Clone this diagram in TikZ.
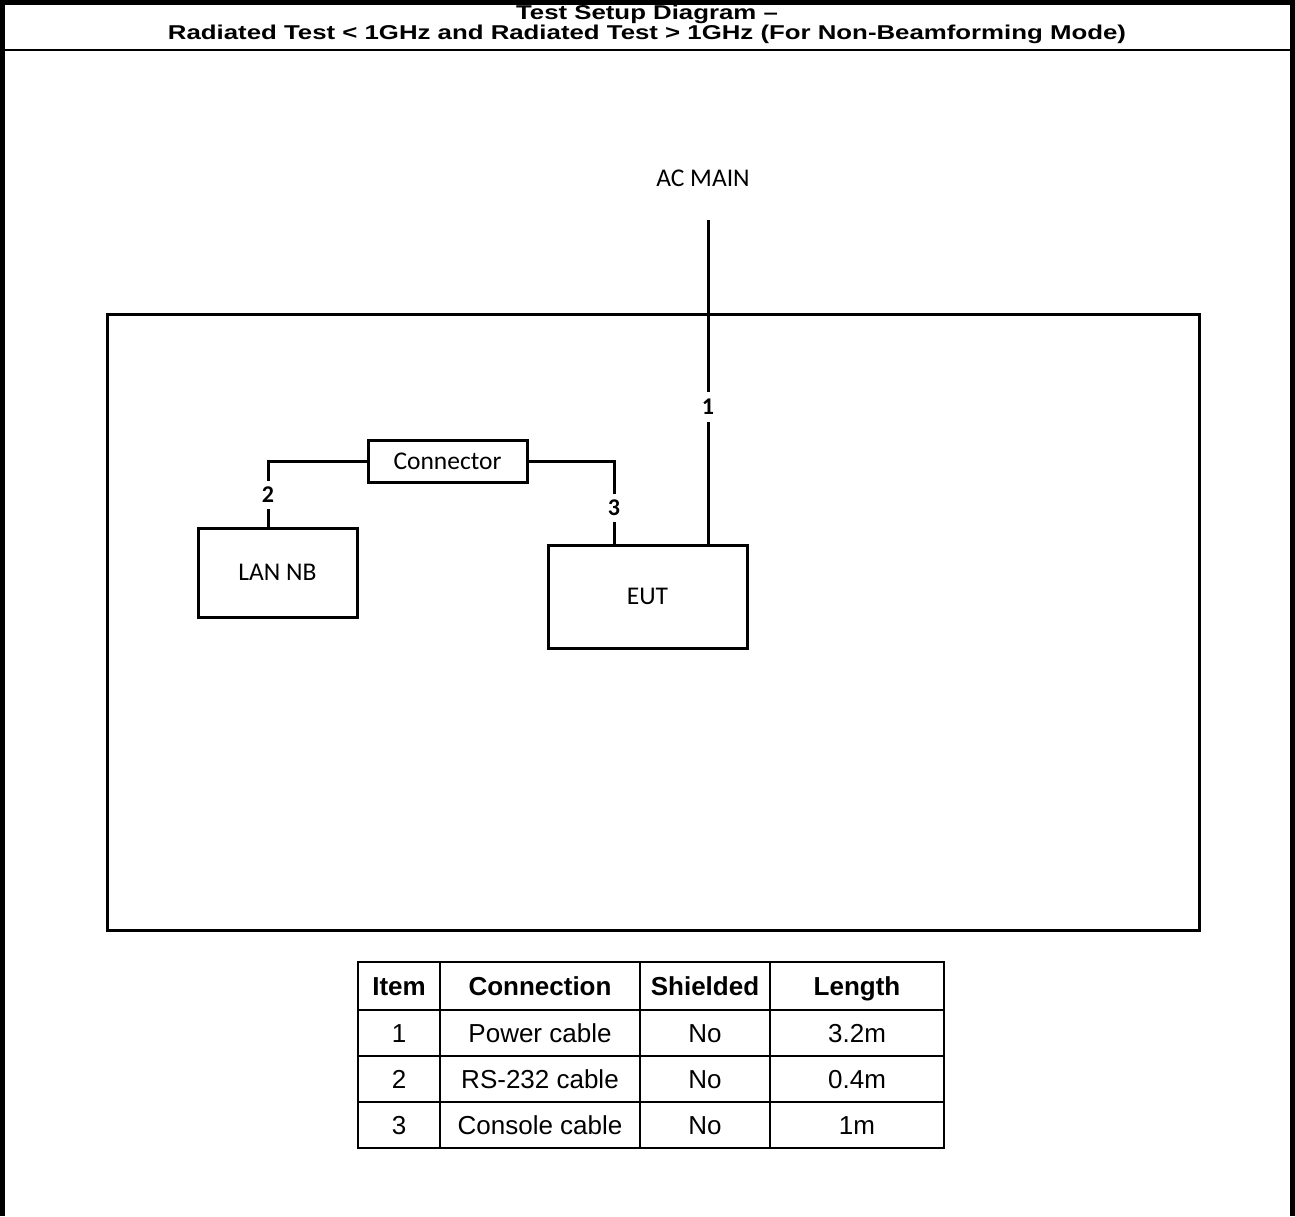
\documentclass[tikz,border=0pt]{standalone}
\usepackage{fontspec}
\usepackage{graphicx}
\setmainfont{Liberation Sans}
\newfontfamily\calib{Carlito}
\newcommand{\ttlwide}[1]{\scalebox{1.29}[1]{#1}}
\begin{document}
\begin{tikzpicture}[x=1pt,y=-1pt,
  dev/.style={draw,line width=3pt,inner sep=0pt,font=\calib\fontsize{25.5}{28}\selectfont},
  wire/.style={line width=3pt},
  num/.style={font=\calib\bfseries\fontsize{24}{26}\selectfont,inner sep=0pt},
  cell/.style={font=\fontsize{26}{30}\selectfont,inner sep=0pt},
  hcell/.style={font=\bfseries\fontsize{26}{30}\selectfont,inner sep=0pt},
  ttl/.style={font=\bfseries\fontsize{20}{22}\selectfont,inner sep=0pt}]
\useasboundingbox (0,0) rectangle (1295,1216);
% outer frame
\draw[line width=5pt] (2.5,1216) -- (2.5,2.5) -- (1292.5,2.5) -- (1292.5,1216);
\draw[line width=2pt] (2.5,50) -- (1292.5,50);
\node[ttl] (title1) at (647,14) {\ttlwide{Test Setup Diagram --}};
\node[ttl] (title2) at (647,34) {\ttlwide{Radiated Test < 1GHz and Radiated Test > 1GHz (For Non-Beamforming Mode)}};
% room
\node[draw,line width=3pt,minimum width=1092pt,minimum height=616pt,inner sep=0pt] (room) at (653,622) {};
\node[font=\calib\fontsize{25.5}{28}\selectfont,inner sep=0pt] (ac) at (703,178) {AC MAIN};
\node[dev,minimum width=199pt,minimum height=103pt] (eut) at (647.5,596.5) {EUT};
\node[dev,minimum width=159pt,minimum height=89pt] (lan) at (277.5,572.5) {LAN NB};
\node[dev,minimum width=159pt,minimum height=42pt] (conn) at (447.5,461) {Connector};
% labels
\node[num] (n1) at (708,407) {1};
\node[num] (n2) at (268,495) {2};
\node[num] (n3) at (614,508) {3};
\coordinate (acb) at (708,220);
% wires
\draw[wire] (acb) -- ([yshift=7pt]n1.north);
\draw[wire] ([yshift=-7pt]n1.south) -- (eut.north -| n1);
\draw[wire] (conn.west) -| ([yshift=6pt]n2.north);
\draw[wire] ([yshift=-6pt]n2.south) -- (lan.north -| n2);
\draw[wire] (conn.east) -| ([yshift=6pt]n3.north);
\draw[wire] ([yshift=-6pt]n3.south) -- (eut.north -| n3);
% table
\draw[line width=2pt] (358,962) rectangle (944,1148);
\foreach \yy in {1010,1056,1102} \draw[line width=1.5pt] (358,\yy) -- (944,\yy);
\foreach \xx in {440,640,770} \draw[line width=1.5pt] (\xx,962) -- (\xx,1148);
\node[hcell,anchor=base] (h1) at (399,995) {Item};
\node[hcell,anchor=base] (h2) at (540,995) {Connection};
\node[hcell,anchor=base] (h3) at (705,995) {Shielded};
\node[hcell,anchor=base] (h4) at (857,995) {Length};
\node[cell,anchor=base] (a1) at (399,1042) {1};
\node[cell,anchor=base] (a2) at (540,1042) {Power cable};
\node[cell,anchor=base] (a3) at (705,1042) {No};
\node[cell,anchor=base] (a4) at (857,1042) {3.2m};
\node[cell,anchor=base] (b1) at (399,1088) {2};
\node[cell,anchor=base] (b2) at (540,1088) {RS-232 cable};
\node[cell,anchor=base] (b3) at (705,1088) {No};
\node[cell,anchor=base] (b4) at (857,1088) {0.4m};
\node[cell,anchor=base] (c1) at (399,1134) {3};
\node[cell,anchor=base] (c2) at (540,1134) {Console cable};
\node[cell,anchor=base] (c3) at (705,1134) {No};
\node[cell,anchor=base] (c4) at (857,1134) {1m};
\end{tikzpicture}
\end{document}
